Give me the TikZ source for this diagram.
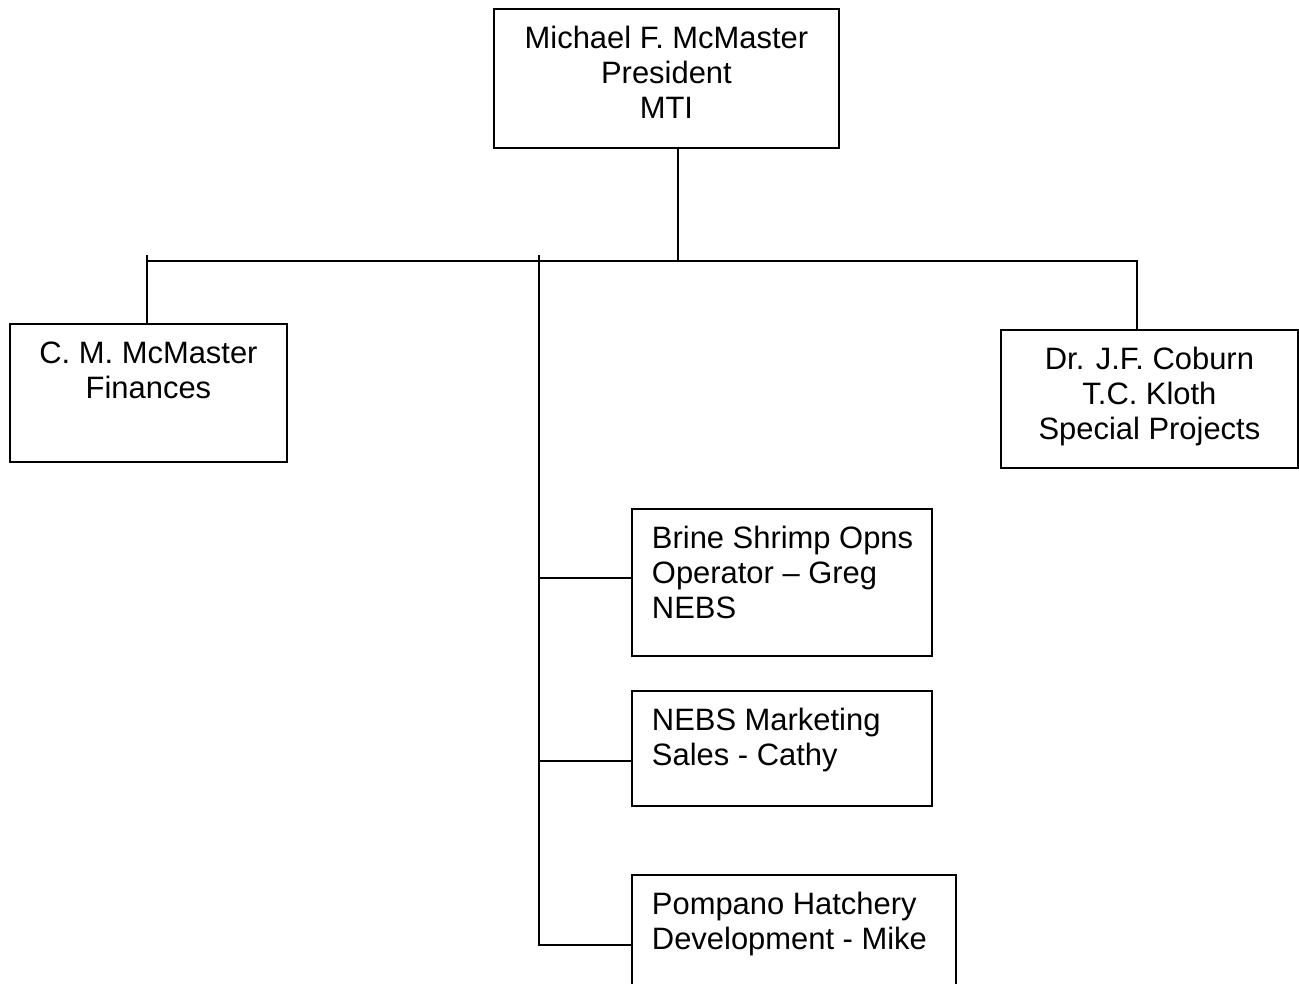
\documentclass[tikz,border=0pt]{standalone}
\usepackage{fontspec}
\setmainfont{Liberation Sans}
\usetikzlibrary{positioning,calc}

\newcommand{\orgfont}{\fontsize{17.6}{19.9}\selectfont}
\newcommand{\boxc}[3]{\parbox[t][#2][t]{#1}{\centering\strut #3}}
\newcommand{\boxl}[3]{\parbox[t][#2][t]{#1}{\raggedright\leftskip=0.4cm\strut #3}}

\tikzset{
 unit/.style={draw, line width=1.1pt, anchor=north west, inner xsep=0pt, inner ysep=0.31cm, font=\orgfont},
 link/.style={line width=1.1pt}
}

\begin{document}
\begin{tikzpicture}[x=0.02cm, y=-0.02cm]
 \useasboundingbox (0,0) rectangle (1299,984);

 \node[unit] (pres) at (493,8) {\boxc{6.9cm}{2.16cm}{Michael F. McMaster\\President\\MTI}};

 \node[unit] (fin) at (9,323) {\boxc{5.54cm}{2.14cm}{C. M. McMaster\\Finances}};
 \node[unit] (spec) at (1000,329) {\boxc{5.94cm}{2.14cm}{Dr. J.F. Coburn\\T.C. Kloth\\Special Projects}};

 \node[unit] (brine) at (631,508) {\boxl{6cm}{2.32cm}{Brine Shrimp Opns\\Operator – Greg\\NEBS}};
 \node[unit] (nebs) at (631,690) {\boxl{6cm}{1.68cm}{NEBS Marketing\\Sales - Cathy}};
 \node[unit] (pomp) at (631,874) {\boxl{6.48cm}{2.18cm}{Pompano Hatchery\\Development - Mike}};

 % bus points
 \coordinate (top) at (678,261);
 \coordinate (tickL) at (147,255);
 \coordinate (specin) at (1137,261);
 \coordinate (trunk) at (539,255);

 \draw[link] (pres.south -| top) -- (top);
 \draw[link] (fin.north |- top) -- (specin) -- (specin |- spec.north);
 \draw[link] (tickL) -- (tickL |- fin.north);

 \draw[link] (trunk) |- (pomp.west);
 \draw[link] ([yshift=0.09cm]brine.west) -- ++(-92,0);
 \draw[link] ([yshift=-0.25cm]nebs.west) -- ++(-92,0);
\end{tikzpicture}
\end{document}
